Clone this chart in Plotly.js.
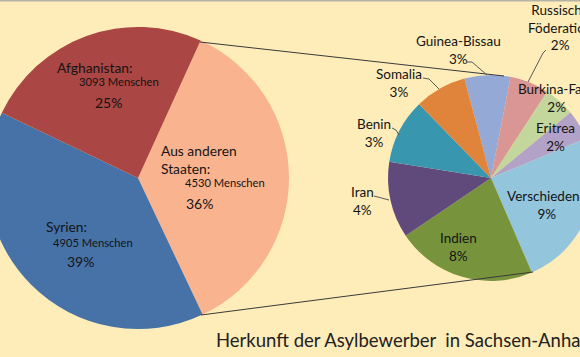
<!DOCTYPE html>
<html>
<head>
<meta charset="utf-8">
<script src="https://cdn.plot.ly/plotly-3.0.1.min.js"></script>
<style>
  html, body { margin: 0; padding: 0; width: 580px; height: 357px; overflow: hidden; background: #FEECB9; }
  #chart { position: absolute; left: -20px; top: 0; width: 620px; height: 357px; }
</style>
</head>
<body>
<div id="chart"></div>
<script>
// ---- data ----
const mainLabels = ['Aus anderen Staaten', 'Syrien', 'Afghanistan'];
const mainValues = [4530, 4905, 3093];
const mainColors = ['#FAB38F', '#4672A8', '#AA4643'];

const subLabels = ['Guinea-Bissau', 'Russische Föderation', 'Burkina-Faso', 'Eritrea', 'Verschiedene', 'Indien', 'Iran', 'Benin', 'Somalia'];
const subValues = [325, 277, 219, 210, 1120, 994, 540, 460, 367];
const subShares = [3, 2, 2, 2, 9, 8, 4, 3, 3];   // percent labels as printed
const subColors = ['#94A9D5', '#D99694', '#C3D69B', '#B3A2C7', '#93C5DC', '#77933C', '#604A7B', '#3996AF', '#E0843B'];

const titleText = 'Herkunft der Asylbewerber  in Sachsen-Anhalt';

// ---- geometry helpers (window px -> paper) ----
const W = 620, H = 357, OFF = 20;
const px = wx => (wx + OFF) / W;
const py = wy => 1 - wy / H;

const total = mainValues.reduce((a, b) => a + b, 0);
const FONT = 'Lato, "Open Sans", sans-serif';

const mainPie = {
  type: 'pie', labels: mainLabels, values: mainValues, sort: false,
  direction: 'clockwise', rotation: 24.5,
  marker: { colors: mainColors, line: { width: 0 } },
  textinfo: 'none', hoverinfo: 'skip', showlegend: false,
  domain: { x: [px(-13), px(289)], y: [py(329), py(27)] }
};
const subPie = {
  type: 'pie', labels: subLabels, values: subValues, sort: false,
  direction: 'clockwise', rotation: -15,
  marker: { colors: subColors, line: { width: 0 } },
  textinfo: 'none', hoverinfo: 'skip', showlegend: false,
  domain: { x: [px(388), px(594)], y: [py(281), py(75)] }
};

const annotations = [];
// main pie labels: [name pos, count pos, pct pos] (left x, center y)
const mainPos = [
  [[161, 159], [185, 182], [186, 203]],
  [[46, 226], [53, 242], [67, 261]],
  [[57, 67], [79, 82], [95, 102]]
];
mainLabels.forEach((lab, i) => {
  const p = mainPos[i];
  const name = lab.replace('anderen ', 'anderen<br>') + ':';
  const pct = Math.round(mainValues[i] / total * 100) + '%';
  const items = [[name, 13.8, p[0]], [mainValues[i] + ' Menschen', 11.2, p[1]], [pct, 14, p[2]]];
  items.forEach(([t, s, pos]) => {
    annotations.push({
      xref: 'paper', yref: 'paper', x: px(pos[0] - 1), y: py(pos[1]),
      xanchor: 'left', yanchor: 'middle', align: 'left', showarrow: false,
      borderpad: 0, text: t, font: { family: FONT, size: s, color: '#141414' }
    });
  });
});
// sub pie labels (center x, center y of block)
const subPos = [[458, 50], [560, 28], [557, 98], [555, 137], [547, 205], [458, 247], [362, 201], [374, 133], [399, 83]];
subLabels.forEach((lab, i) => {
  const name = lab.replace('Russische ', 'Russische<br>');
  annotations.push({
    xref: 'paper', yref: 'paper', x: px(subPos[i][0]), y: py(subPos[i][1]),
    xanchor: 'center', yanchor: 'middle', align: 'center', showarrow: false,
    borderpad: 0, text: name + '<br>' + subShares[i] + '%',
    font: { family: FONT, size: 13.5, color: '#141414' }
  });
});

function poly(pts) {
  return 'M' + pts.map(p => px(p[0]) + ',' + py(p[1])).join(' L');
}
const lineStyle = { color: '#3a3a3a', width: 1 };
const leaderStyle = { color: '#4a4a4a', width: 0.9 };
const shapes = [
  { type: 'line', xref: 'paper', yref: 'paper', x0: px(200), y0: py(42), x1: px(504), y1: py(76), line: lineStyle },
  { type: 'line', xref: 'paper', yref: 'paper', x0: px(201), y0: py(315), x1: px(533), y1: py(272), line: lineStyle },
  { type: 'line', xref: 'paper', yref: 'paper', x0: px(-20), y0: py(0.5), x1: px(600), y1: py(0.5), line: { color: '#B5B2A6', width: 2 } },
  { type: 'path', xref: 'paper', yref: 'paper', path: poly([[467, 62], [472, 62], [487, 75]]), line: leaderStyle },
  { type: 'path', xref: 'paper', yref: 'paper', path: poly([[423, 78], [429, 79], [439, 89]]), line: leaderStyle },
  { type: 'path', xref: 'paper', yref: 'paper', path: poly([[546, 50], [543, 53], [528, 82]]), line: leaderStyle },
  { type: 'path', xref: 'paper', yref: 'paper', path: poly([[392, 128], [396, 130], [399, 135]]), line: leaderStyle },
  { type: 'path', xref: 'paper', yref: 'paper', path: poly([[374, 196], [389, 200]]), line: leaderStyle }
];

const layout = {
  width: W, height: H,
  margin: { l: 0, r: 0, t: 0, b: 0 },
  paper_bgcolor: '#FEECB9', plot_bgcolor: '#FEECB9',
  title: {
    text: titleText, x: px(216), xanchor: 'left', xref: 'paper',
    y: py(341), yanchor: 'middle', yref: 'paper',
    font: { family: FONT, size: 18.5, color: '#222' }
  },
  annotations: annotations,
  shapes: shapes,
  showlegend: false
};

Plotly.newPlot('chart', [mainPie, subPie], layout, { staticPlot: true, displayModeBar: false });
</script>
</body>
</html>
